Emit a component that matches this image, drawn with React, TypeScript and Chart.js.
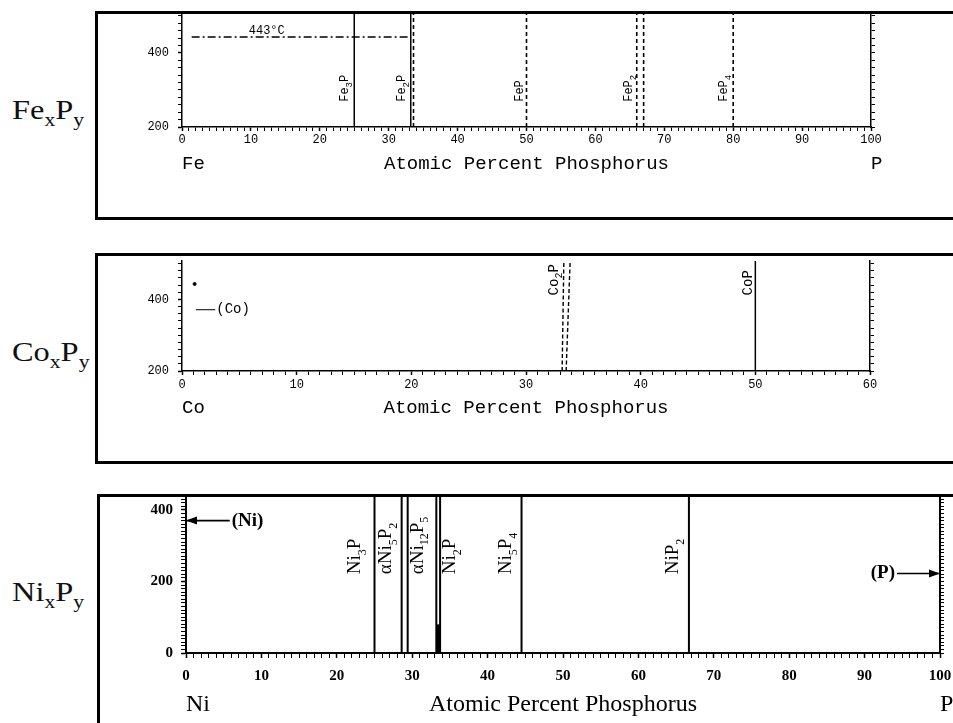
import React, { useEffect, useRef } from 'react';
import { Chart, registerables } from 'chart.js';

Chart.register(...registerables);

const MONO = "'Liberation Mono', 'DejaVu Sans Mono', monospace";
const SERIF = "'Liberation Serif', 'DejaVu Serif', serif";
const INK = '#000';

// ---------------- Fe–P ----------------
const feXTickLabels = [0, 10, 20, 30, 40, 50, 60, 70, 80, 90, 100];
const feYTickLabels = [200, 400];
const feSolidX = [25, 33.2];
const feDashedX = [33.6, 50, 66, 67, 80];
const fePhaseNames = ['Fe_{3}P', 'Fe_{2}P', 'FeP', 'FeP_{2}', 'FeP_{4}'];
const fePhaseLabelX = [24.1, 32.4, 49.5, 65.3, 79.1];
const fePhaseLabelT = 268;
const feEutecticT = 443;
const feEutecticX = [1.4, 33.2];
const feEutecticText = '443°C';
const feEutecticTextX = 12.3;

// ---------------- Co–P ----------------
const coXTickLabels = [0, 10, 20, 30, 40, 50, 60];
const coYTickLabels = [200, 400];
const coSolidX = [50];
const coDashedBottomX = [33.15, 33.5];
const coDashedTopX = [33.3, 33.85];
const coPhaseNames = ['Co_{2}P', 'CoP'];
const coPhaseLabelX = [32.8, 49.7];
const coPhaseLabelT = 411;
const coPointX = [1.1];
const coPointT = [443];
const coRegionT = 371;
const coRegionX = [1.2, 2.9];
const coRegionText = '(Co)';

// ---------------- Ni–P ----------------
const niXTickLabels = [0, 10, 20, 30, 40, 50, 60, 70, 80, 90, 100];
const niYTickLabels = [0, 200, 400];
const niSolidX = [25, 28.6, 29.4, 33.2, 33.7, 44.5, 66.7];
const niPhaseNames = ['Ni_{3}P', 'αNi_{5}P_{2}', 'αNi_{12}P_{5}', 'Ni_{2}P', 'Ni_{5}P_{4}', 'NiP_{2}'];
const niPhaseLabelX = [23.1, 27.2, 31.4, 35.7, 43.1, 65.3];
const niPhaseLabelT = 220;
const niShadeX = 33.45;
const niShadeT = [0, 80];
const niArrowNiX = [5.8, 0];
const niArrowNiT = 370;
const niArrowPX = [94.3, 100];
const niArrowPT = 222;

type Seg = { t: string; sub: boolean };
function parseRich(text: string): Seg[] {
  const segs: Seg[] = [];
  const re = /_\{([^}]*)\}/g;
  let last = 0;
  let m: RegExpExecArray | null;
  while ((m = re.exec(text))) {
    if (m.index > last) segs.push({ t: text.slice(last, m.index), sub: false });
    segs.push({ t: m[1], sub: true });
    last = re.lastIndex;
  }
  if (last < text.length) segs.push({ t: text.slice(last), sub: false });
  return segs;
}

function drawRich(
  ctx: CanvasRenderingContext2D,
  text: string,
  x: number,
  y: number,
  o: { family: string; size: number; weight?: string; rotate?: boolean; align?: string; baseline?: CanvasTextBaseline; subScale?: number }
) {
  const segs = parseRich(text);
  const subSize = Math.round(o.size * (o.subScale ?? 0.7));
  const w = o.weight ?? 'normal';
  const fontOf = (s: Seg) => `${w} ${s.sub ? subSize : o.size}px ${o.family}`;
  ctx.save();
  ctx.translate(x, y);
  if (o.rotate) ctx.rotate(-Math.PI / 2);
  ctx.fillStyle = INK;
  ctx.textAlign = 'left';
  ctx.textBaseline = o.baseline ?? 'alphabetic';
  let total = 0;
  for (const s of segs) {
    ctx.font = fontOf(s);
    total += ctx.measureText(s.t).width;
  }
  let cx = o.align === 'right' ? -total : o.align === 'center' ? -total / 2 : 0;
  for (const s of segs) {
    ctx.font = fontOf(s);
    ctx.fillText(s.t, cx, s.sub ? o.size * 0.3 : 0);
    cx += ctx.measureText(s.t).width;
  }
  ctx.restore();
}

function arrowHead(ctx: CanvasRenderingContext2D, tipX: number, tipY: number, dir: number) {
  ctx.save();
  ctx.fillStyle = INK;
  ctx.beginPath();
  ctx.moveTo(tipX, tipY);
  ctx.lineTo(tipX - dir * 11, tipY - 4);
  ctx.lineTo(tipX - dir * 11, tipY + 4);
  ctx.closePath();
  ctx.fill();
  ctx.restore();
}

function lineDs(points: { x: number; y: number }[], dash: number[] = [], width = 1.5) {
  return {
    data: points,
    showLine: true,
    borderColor: INK,
    borderWidth: width,
    borderDash: dash,
    pointRadius: 0,
    fill: false,
    tension: 0,
    yAxisID: 'y',
  };
}

type Spec = {
  key: string;
  box: { left: number; top: number; width: number; height: number };
  canvas: { left: number; top: number; width: number; height: number };
  xMax: number;
  yMin: number;
  yMax: number;
  xMinor: number;
  yMinor: number;
  xTicks: number[];
  yTicks: number[];
  yAxisW: number;
  y1W: number;
  xAxisH: number;
  tickFont: any;
  xTickPad: number;
  yTickPad: number;
  tickLen: number;
  axisWidth: number;
  titleFont: any;
  titlePad: number;
  ends: [string, string];
  side: { text: string; baseline: number };
  datasets: any[];
  extras: (chart: any) => void;
};

const isIn = (list: number[], v: number) => list.some((t) => Math.abs(t - v) < 1e-6);

function buildScales(s: Spec) {
  const gridCommon = {
    drawOnChartArea: false,
    drawTicks: true,
    tickLength: s.tickLen,
    tickColor: INK,
    color: INK,
  };
  return {
    x: {
      type: 'linear',
      position: 'bottom',
      min: 0,
      max: s.xMax,
      ticks: {
        stepSize: s.xMinor,
        autoSkip: false,
        maxRotation: 0,
        minRotation: 0,
        maxTicksLimit: 1000,
        includeBounds: false,
        color: INK,
        font: s.tickFont,
        padding: s.xTickPad,
        callback: (v: number) => (isIn(s.xTicks, v) ? String(v) : ''),
      },
      grid: { ...gridCommon, tickWidth: (c: any) => (c.tick && isIn(s.xTicks, c.tick.value) ? 1.5 : 1) },
      border: { display: true, color: INK, width: s.axisWidth },
      title: {
        display: true,
        text: 'Atomic Percent Phosphorus',
        color: INK,
        font: s.titleFont,
        padding: { top: 0, bottom: s.titlePad },
      },
      afterFit: (sc: any) => {
        sc.height = s.xAxisH;
        sc.paddingLeft = 0;
        sc.paddingRight = 0;
      },
    },
    y: {
      type: 'linear',
      position: 'left',
      min: s.yMin,
      max: s.yMax,
      ticks: {
        stepSize: s.yMinor,
        autoSkip: false,
        maxTicksLimit: 1000,
        includeBounds: false,
        color: INK,
        font: s.tickFont,
        padding: s.yTickPad,
        callback: (v: number) => (isIn(s.yTicks, v) ? String(v) : ''),
      },
      grid: { ...gridCommon, tickWidth: (c: any) => (c.tick && isIn(s.yTicks, c.tick.value) ? 1.5 : 1) },
      border: { display: true, color: INK, width: s.axisWidth },
      afterFit: (sc: any) => {
        sc.width = s.yAxisW;
        sc.paddingTop = 0;
        sc.paddingBottom = 0;
      },
    },
    y1: {
      type: 'linear',
      position: 'right',
      min: s.yMin,
      max: s.yMax,
      ticks: { display: false, stepSize: s.yMinor, maxTicksLimit: 1000, includeBounds: false },
      grid: { ...gridCommon, tickLength: 4 },
      border: { display: true, color: INK, width: s.axisWidth },
      afterFit: (sc: any) => {
        sc.width = s.y1W;
        sc.paddingTop = 0;
        sc.paddingBottom = 0;
      },
    },
  };
}

function drawEnds(chart: any, s: Spec) {
  const ctx = chart.ctx as CanvasRenderingContext2D;
  const x = chart.scales.x;
  const lh = s.titleFont.size * (s.titleFont.lineHeight ?? 1.2);
  const ty = x.bottom - lh / 2 - s.titlePad;
  ctx.save();
  ctx.fillStyle = INK;
  ctx.font = `${s.titleFont.weight ?? 'normal'} ${s.titleFont.size}px ${s.titleFont.family}`;
  ctx.textBaseline = 'middle';
  ctx.textAlign = 'left';
  ctx.fillText(s.ends[0], x.getPixelForValue(0), ty);
  ctx.fillText(s.ends[1], x.getPixelForValue(s.xMax), ty);
  ctx.restore();
}

// ---------------- panel specs ----------------
const feSpec: Spec = {
  key: 'fe',
  box: { left: 95, top: 11, width: 900, height: 209 },
  canvas: { left: 98, top: 14, width: 855, height: 203 },
  xMax: 100,
  yMin: 200,
  yMax: 505,
  xMinor: 1,
  yMinor: 20,
  xTicks: feXTickLabels,
  yTicks: feYTickLabels,
  yAxisW: 84,
  y1W: 82,
  xAxisH: 90,
  tickFont: { family: MONO, size: 12 },
  xTickPad: 2,
  yTickPad: 9,
  tickLen: 4,
  axisWidth: 1.5,
  titleFont: { family: MONO, size: 19, lineHeight: 1.2 },
  titlePad: 42,
  ends: ['Fe', 'P'],
  side: { text: 'Fe_{x}P_{y}', baseline: 120 },
  datasets: [
    ...feSolidX.map((x) => lineDs([{ x, y: 200 }, { x, y: 505 }], [], 1.5)),
    ...feDashedX.map((x) => lineDs([{ x, y: 200 }, { x, y: 505 }], [4, 3], 1.6)),
    lineDs([{ x: feEutecticX[0], y: feEutecticT }, { x: feEutecticX[1], y: feEutecticT }], [8, 3, 2, 3], 1.5),
  ],
  extras: (chart) => {
    const ctx = chart.ctx as CanvasRenderingContext2D;
    const xs = chart.scales.x;
    const ys = chart.scales.y;
    fePhaseNames.forEach((n, i) =>
      drawRich(ctx, n, xs.getPixelForValue(fePhaseLabelX[i]), ys.getPixelForValue(fePhaseLabelT), {
        family: MONO,
        size: 12,
        rotate: true,
        subScale: 0.75,
      })
    );
    drawRich(ctx, feEutecticText, xs.getPixelForValue(feEutecticTextX), ys.getPixelForValue(feEutecticT) - 3, {
      family: MONO,
      size: 12,
      align: 'center',
    });
  },
};

const coSpec: Spec = {
  key: 'co',
  box: { left: 95, top: 253, width: 900, height: 211 },
  canvas: { left: 98, top: 256, width: 855, height: 205 },
  xMax: 60,
  yMin: 200,
  yMax: 507,
  xMinor: 1,
  yMinor: 20,
  xTicks: coXTickLabels,
  yTicks: coYTickLabels,
  yAxisW: 84,
  y1W: 83,
  xAxisH: 90,
  tickFont: { family: MONO, size: 12 },
  xTickPad: 3,
  yTickPad: 9,
  tickLen: 4,
  axisWidth: 1.5,
  titleFont: { family: MONO, size: 19, lineHeight: 1.2 },
  titlePad: 42,
  ends: ['Co', ''],
  side: { text: 'Co_{x}P_{y}', baseline: 362 },
  datasets: [
    ...coSolidX.map((x) => lineDs([{ x, y: 200 }, { x, y: 507 }], [], 1.5)),
    ...coDashedBottomX.map((x, i) => lineDs([{ x, y: 200 }, { x: coDashedTopX[i], y: 507 }], [4, 2.5], 1.4)),
    lineDs([{ x: coRegionX[0], y: coRegionT }, { x: coRegionX[1], y: coRegionT }], [], 1),
    {
      data: coPointX.map((x, i) => ({ x, y: coPointT[i] })),
      showLine: false,
      pointRadius: 1.5,
      pointBackgroundColor: INK,
      pointBorderColor: INK,
      yAxisID: 'y',
    },
  ],
  extras: (chart) => {
    const ctx = chart.ctx as CanvasRenderingContext2D;
    const xs = chart.scales.x;
    const ys = chart.scales.y;
    coPhaseNames.forEach((n, i) =>
      drawRich(ctx, n, xs.getPixelForValue(coPhaseLabelX[i]), ys.getPixelForValue(coPhaseLabelT), {
        family: MONO,
        size: 14,
        rotate: true,
        subScale: 0.72,
      })
    );
    drawRich(ctx, coRegionText, xs.getPixelForValue(coRegionX[1]) + 1, ys.getPixelForValue(coRegionT), {
      family: MONO,
      size: 14,
      baseline: 'middle',
    });
  },
};

const niSpec: Spec = {
  key: 'ni',
  box: { left: 97, top: 494, width: 900, height: 260 },
  canvas: { left: 100, top: 497, width: 853, height: 226 },
  xMax: 100,
  yMin: 0,
  yMax: 436,
  xMinor: 1,
  yMinor: 10,
  xTicks: niXTickLabels,
  yTicks: niYTickLabels,
  yAxisW: 86,
  y1W: 13,
  xAxisH: 70,
  tickFont: { family: SERIF, size: 15, weight: 'bold' },
  xTickPad: 9,
  yTickPad: 8,
  tickLen: 5,
  axisWidth: 2,
  titleFont: { family: SERIF, size: 24, lineHeight: 1.2 },
  titlePad: 4,
  ends: ['Ni', 'P'],
  side: { text: 'Ni_{x}P_{y}', baseline: 602 },
  datasets: [
    ...niSolidX.map((x) => lineDs([{ x, y: 0 }, { x, y: 436 }], [], 2)),
    lineDs([{ x: niShadeX, y: niShadeT[0] }, { x: niShadeX, y: niShadeT[1] }], [], 3.5),
    lineDs([{ x: niArrowNiX[0], y: niArrowNiT }, { x: niArrowNiX[1], y: niArrowNiT }], [], 1.6),
    lineDs([{ x: niArrowPX[0], y: niArrowPT }, { x: niArrowPX[1], y: niArrowPT }], [], 1.6),
  ],
  extras: (chart) => {
    const ctx = chart.ctx as CanvasRenderingContext2D;
    const xs = chart.scales.x;
    const ys = chart.scales.y;
    niPhaseNames.forEach((n, i) =>
      drawRich(ctx, n, xs.getPixelForValue(niPhaseLabelX[i]), ys.getPixelForValue(niPhaseLabelT), {
        family: SERIF,
        size: 19,
        rotate: true,
        subScale: 0.65,
      })
    );
    arrowHead(ctx, xs.getPixelForValue(niArrowNiX[1]), ys.getPixelForValue(niArrowNiT), -1);
    arrowHead(ctx, xs.getPixelForValue(niArrowPX[1]), ys.getPixelForValue(niArrowPT), 1);
    drawRich(ctx, '(Ni)', xs.getPixelForValue(niArrowNiX[0]) + 2, ys.getPixelForValue(niArrowNiT), {
      family: SERIF,
      size: 19,
      weight: 'bold',
      baseline: 'middle',
    });
    drawRich(ctx, '(P)', xs.getPixelForValue(niArrowPX[0]) - 2, ys.getPixelForValue(niArrowPT), {
      family: SERIF,
      size: 19,
      weight: 'bold',
      baseline: 'middle',
      align: 'right',
    });
  },
};

function SideLabel({ text, baseline }: { text: string; baseline: number }) {
  return (
    <div
      style={{
        position: 'absolute',
        left: 12,
        top: baseline - 22.6,
        fontFamily: SERIF,
        fontSize: 27,
        lineHeight: '27px',
        color: '#111',
        whiteSpace: 'nowrap',
        transform: 'scaleX(1.2)',
        transformOrigin: 'left center',
      }}
    >
      {parseRich(text).map((s, i) =>
        s.sub ? (
          <span key={i} style={{ fontSize: 18, position: 'relative', top: 7 }}>
            {s.t}
          </span>
        ) : (
          <span key={i}>{s.t}</span>
        )
      )}
    </div>
  );
}

function Panel({ spec }: { spec: Spec }) {
  const ref = useRef<HTMLCanvasElement>(null);
  useEffect(() => {
    const c = ref.current;
    if (!c) return;
    const chart = new Chart(c, {
      type: 'scatter',
      data: { datasets: spec.datasets },
      options: {
        animation: false,
        responsive: false,
        events: [],
        layout: { padding: 0 },
        plugins: { legend: { display: false }, tooltip: { enabled: false } },
        scales: buildScales(spec) as any,
      },
      plugins: [
        {
          id: 'extras-' + spec.key,
          afterDatasetsDraw: (ch: any) => {
            drawEnds(ch, spec);
            spec.extras(ch);
          },
        },
      ],
    } as any);
    return () => chart.destroy();
  }, [spec]);
  return (
    <>
      <div
        style={{
          position: 'absolute',
          left: spec.box.left,
          top: spec.box.top,
          width: spec.box.width,
          height: spec.box.height,
          border: '3px solid #000',
          boxSizing: 'border-box',
          background: '#fff',
        }}
      />
      <canvas
        ref={ref}
        width={spec.canvas.width}
        height={spec.canvas.height}
        style={{ position: 'absolute', left: spec.canvas.left, top: spec.canvas.top }}
      />
      <SideLabel text={spec.side.text} baseline={spec.side.baseline} />
    </>
  );
}

export default function App() {
  return (
    <div
      style={{
        position: 'absolute',
        left: 0,
        top: 0,
        width: 953,
        height: 723,
        overflow: 'hidden',
        background: '#fff',
      }}
    >
      <Panel spec={feSpec} />
      <Panel spec={coSpec} />
      <Panel spec={niSpec} />
    </div>
  );
}
